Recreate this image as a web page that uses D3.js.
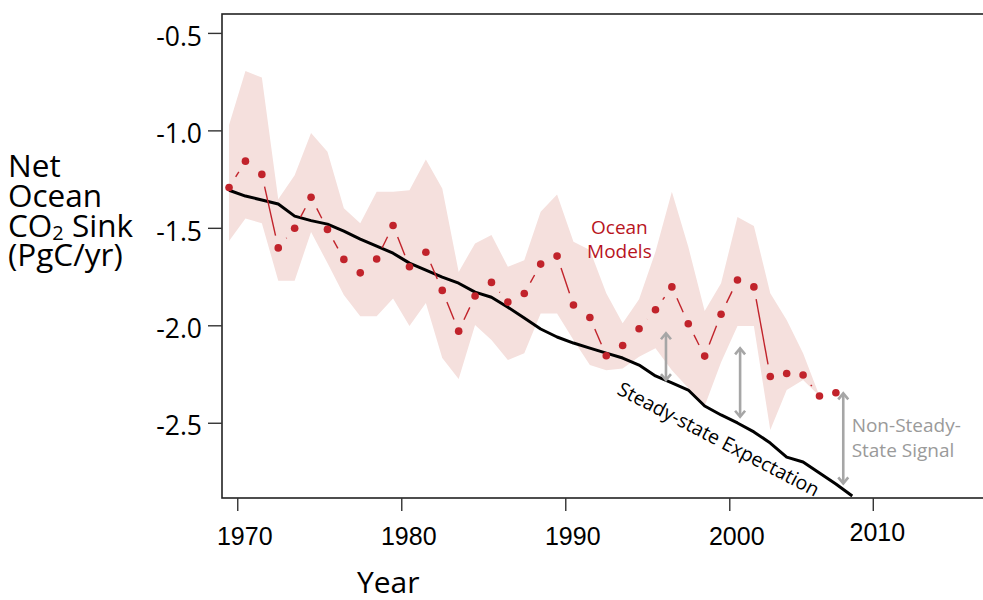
<!DOCTYPE html>
<html>
<head>
<meta charset="utf-8">
<script src="https://cdn.jsdelivr.net/npm/d3@7"></script>
<style>
    body { margin: 0; background: #fff; }
    svg { display: block; }
</style>
</head>
<body>
<div id="chart"></div>
<script>
// annual values, drawn at mid-year
let years = [1969, 1970, 1971, 1972, 1973, 1974, 1975, 1976, 1977, 1978,
    1979, 1980, 1981, 1982, 1983, 1984, 1985, 1986, 1987, 1988,
    1989, 1990, 1991, 1992, 1993, 1994, 1995, 1996, 1997, 1998,
    1999, 2000, 2001, 2002, 2003, 2004, 2005, 2006]

let modelMean = [-1.293, -1.158, -1.226, -1.603, -1.502, -1.343, -1.508, -1.662, -1.731, -1.660,
    -1.488, -1.700, -1.625, -1.821, -2.030, -1.850, -1.780, -1.881, -1.837, -1.686,
    -1.645, -1.896, -1.960, -2.156, -2.104, -2.018, -1.920, -1.803, -1.992, -2.158,
    -1.943, -1.768, -1.803, -2.263, -2.247, -2.255, -2.363, -2.346]

let modelHigh = [-0.973, -0.696, -0.729, -1.353, -1.230, -1.013, -1.110, -1.399, -1.477, -1.315,
    -1.315, -1.307, -1.149, -1.298, -1.726, -1.580, -1.537, -1.700, -1.666, -1.418,
    -1.329, -1.572, -1.614, -1.836, -1.990, -1.866, -1.623, -1.315, -1.597, -1.927,
    -1.784, -1.444, -1.491, -1.835, -1.973, -2.143, -2.363, -2.346]

let modelLow = [-1.568, -1.452, -1.476, -1.771, -1.771, -1.521, -1.681, -1.845, -1.953, -1.953,
    -1.862, -2.004, -1.886, -2.168, -2.276, -1.999, -2.076, -2.178, -2.144, -1.939,
    -1.939, -2.076, -2.204, -2.230, -2.221, -2.162, -2.118, -2.230, -2.322, -2.414,
    -2.189, -2.004, -2.004, -2.537, -2.332, -2.281, -2.363, -2.346]

let steadyYears = [1969, 1970, 1971, 1972, 1973, 1974, 1975, 1976, 1977, 1978,
    1979, 1980, 1981, 1982, 1983, 1984, 1985, 1986, 1987, 1988,
    1989, 1990, 1991, 1992, 1993, 1994, 1995, 1996, 1997, 1998,
    1999, 2000, 2001, 2002, 2003, 2004, 2005, 2006, 2007]

let steadyState = [-1.307, -1.337, -1.357, -1.378, -1.440, -1.463, -1.481, -1.517, -1.558, -1.594,
    -1.630, -1.681, -1.717, -1.753, -1.784, -1.830, -1.856, -1.907, -1.963, -2.019,
    -2.060, -2.091, -2.117, -2.143, -2.168, -2.204, -2.260, -2.296, -2.332, -2.414,
    -2.460, -2.501, -2.547, -2.604, -2.676, -2.701, -2.758, -2.814, -2.876]

// gap between model mean and steady state
let arrowYears = [1996.14, 2000.66, 2006.95]
let arrowTop = [-2.041, -2.118, -2.349]
let arrowBottom = [-2.281, -2.469, -2.811]

let xTicks = [1970, 1980, 1990, 2000, 2010]
let yTicks = [-0.5, -1.0, -1.5, -2.0, -2.5]

var margin = { top: 14, right: 0, bottom: 102, left: 222 };
var width = 983 - margin.left - margin.right;
var height = 600 - margin.top - margin.bottom;

var svg = d3.select('#chart').append('svg')
    .attr('width', 983)
    .attr('height', 600)
    .append('g')
    .attr('transform', 'translate(' + margin.left + ',' + margin.top + ')');

var x = d3.scaleLinear().domain([1969.07, 2015.47]).range([0, width]);
var y = d3.scaleLinear().domain([-0.403, -2.886]).range([0, height]);

let red = '#c1232b';

// model spread
let band = years.map((d, i) => ({ year: d + 0.5, lo: modelLow[i], hi: modelHigh[i] }))
svg.append('path')
    .datum(band)
    .attr('fill', '#f5e0dd')
    .attr('d', d3.area()
        .x(d => x(d.year))
        .y0(d => y(d.lo))
        .y1(d => y(d.hi)));

// steady state expectation
let steady = steadyYears.map((d, i) => ({ year: d + 0.5, v: steadyState[i] }))
svg.append('path')
    .datum(steady)
    .attr('fill', 'none')
    .attr('stroke', '#000')
    .attr('stroke-width', 3)
    .attr('stroke-linejoin', 'round')
    .attr('d', d3.line().x(d => x(d.year)).y(d => y(d.v)));

// model mean, points joined by lines that stop short of each point
let pts = years.map((d, i) => [x(d + 0.5), y(modelMean[i])])
let gap = 12.5;
let segs = [];
for (let i = 0; i < pts.length - 1; i++) {
    let dx = pts[i + 1][0] - pts[i][0], dy = pts[i + 1][1] - pts[i][1];
    let len = Math.sqrt(dx * dx + dy * dy);
    if (len <= 2 * gap) continue;
    let ux = dx / len, uy = dy / len;
    segs.push([pts[i][0] + ux * gap, pts[i][1] + uy * gap, pts[i + 1][0] - ux * gap, pts[i + 1][1] - uy * gap]);
}
svg.append('g').selectAll('line')
    .data(segs)
    .enter()
    .append('line')
    .attr('x1', d => d[0]).attr('y1', d => d[1])
    .attr('x2', d => d[2]).attr('y2', d => d[3])
    .attr('stroke', red)
    .attr('stroke-width', 1.4);

svg.append('g').selectAll('circle')
    .data(pts)
    .enter()
    .append('circle')
    .attr('cx', d => d[0])
    .attr('cy', d => d[1])
    .attr('r', 3.8)
    .attr('fill', red);

// double headed arrows
let arrows = svg.append('g')
    .attr('stroke', '#a6a6a6')
    .attr('stroke-width', 2.6)
    .attr('fill', 'none');
arrowYears.forEach((yr, i) => {
    let ax = x(yr), t = y(arrowTop[i]), b = y(arrowBottom[i]);
    arrows.append('line').attr('x1', ax).attr('x2', ax).attr('y1', t + 1).attr('y2', b - 1);
    arrows.append('path').attr('d', 'M' + (ax - 5) + ',' + (t + 6) + 'L' + ax + ',' + t + 'L' + (ax + 5) + ',' + (t + 6));
    arrows.append('path').attr('d', 'M' + (ax - 5) + ',' + (b - 6) + 'L' + ax + ',' + b + 'L' + (ax + 5) + ',' + (b - 6));
});

// frame
svg.append('rect')
    .attr('x', 0).attr('y', 0)
    .attr('width', width + 10).attr('height', height)
    .attr('fill', 'none')
    .attr('stroke', '#222')
    .attr('stroke-width', 1.6);

// axes
var yAxis = svg.append('g')
    .call(d3.axisLeft(y).tickValues(yTicks).tickSize(14).tickPadding(6).tickFormat(d => d.toFixed(1)));
yAxis.select('.domain').remove();
yAxis.selectAll('line').attr('stroke', '#333').attr('stroke-width', 1.4);
yAxis.selectAll('text')
    .attr('fill', '#000')
    .attr('dy', '0.46em')
    .style('font-family', '"Open Sans", sans-serif')
    .style('font-size', '26.5px');

var xAxis = svg.append('g')
    .attr('transform', 'translate(0,' + height + ')')
    .call(d3.axisBottom(x).tickValues(xTicks).tickSize(13).tickPadding(16).tickFormat(d3.format('d')));
xAxis.select('.domain').remove();
xAxis.selectAll('line').attr('stroke', '#333').attr('stroke-width', 1.4);
xAxis.selectAll('text')
    .attr('fill', '#000')
    .attr('dx', 7)
    .style('font-family', '"Liberation Sans", Arial, sans-serif')
    .style('font-size', '25px');
// the 2010 tick sits a little left and higher in the original
xAxis.selectAll('.tick')
    .filter(d => d === 2010)
    .attr('transform', d => 'translate(' + (x(d) - 20) + ',0)')
    .select('text').attr('dx', 4).attr('dy', '0.55em');

// labels
let ylab = d3.select('svg').append('text')
    .attr('fill', '#000')
    .style('font-family', '"Open Sans", sans-serif')
    .style('font-size', '31.5px');
ylab.append('tspan').attr('x', 8).attr('y', 177).text('Net');
ylab.append('tspan').attr('x', 8).attr('y', 207).text('Ocean');
let co2 = ylab.append('tspan').attr('x', 8).attr('y', 237);
co2.append('tspan').text('CO');
co2.append('tspan').attr('dy', 3).style('font-size', '20px').text('2');
co2.append('tspan').attr('dy', -3).text(' Sink');
ylab.append('tspan').attr('x', 8).attr('y', 266).text('(PgC/yr)');

d3.select('svg').append('text')
    .attr('x', 357).attr('y', 593)
    .attr('fill', '#000')
    .style('font-family', '"Open Sans", sans-serif')
    .style('font-size', '30px')
    .text('Year');

let om = svg.append('text')
    .attr('text-anchor', 'middle')
    .attr('fill', '#b8141e')
    .style('font-family', '"Open Sans", sans-serif')
    .style('font-size', '19px');
om.append('tspan').attr('x', x(1993.3)).attr('y', y(-1.53)).text('Ocean');
om.append('tspan').attr('x', x(1993.3)).attr('y', y(-1.657)).text('Models');

let ns = svg.append('text')
    .attr('fill', '#9a9a9a')
    .style('font-family', '"Open Sans", sans-serif')
    .style('font-size', '19px');
ns.append('tspan').attr('x', x(2007.46)).attr('y', y(-2.548)).text('Non-Steady-');
ns.append('tspan').attr('x', x(2007.46)).attr('y', y(-2.674)).text('State Signal');

svg.append('text')
    .attr('transform', 'translate(' + x(1993.1) + ',' + y(-2.35) + ') rotate(27.5)')
    .attr('fill', '#000')
    .style('font-family', '"Open Sans", sans-serif')
    .style('font-size', '19.5px')
    .text('Steady-state Expectation');
</script>
</body>
</html>
